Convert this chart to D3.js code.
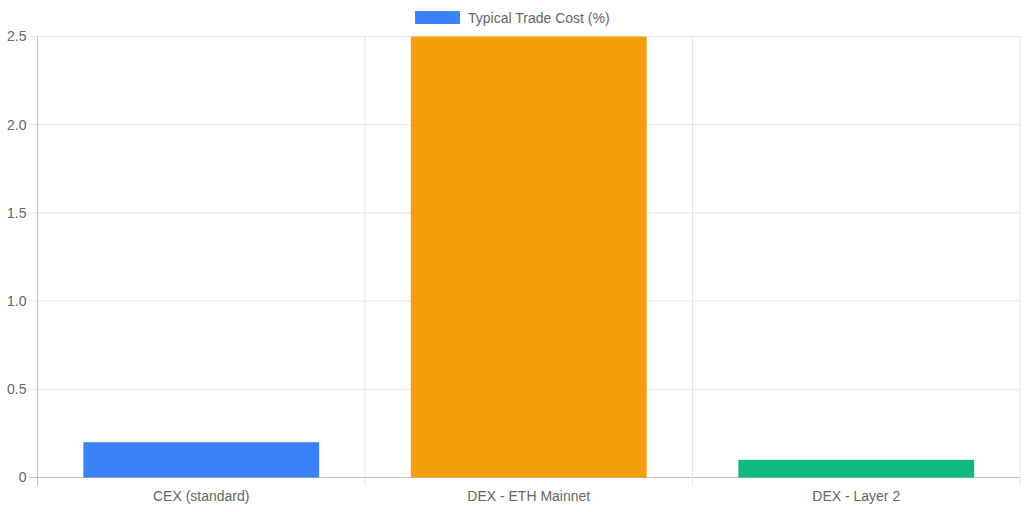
<!DOCTYPE html>
<html>
<head>
<meta charset="utf-8">
<script src="https://cdn.jsdelivr.net/npm/d3@7"></script>
<style>
  body { margin: 0; background: #fff; }
  svg { display: block; font-family: "Liberation Sans", Arial, sans-serif; }
</style>
</head>
<body>
<svg class="chart" width="1024" height="512"></svg>
<script>
// chart data
const categories = ['CEX (standard)', 'DEX - ETH Mainnet', 'DEX - Layer 2'];
const costValues = [0.2, 2.5, 0.1];
const barColors = ['#3b82f6', '#f59e0b', '#10b981'];
const yTicks = [0, 0.5, 1.0, 1.5, 2.0, 2.5];
const seriesLabel = 'Typical Trade Cost (%)';

const svg = d3.select('.chart');
const margin = {top: 36.5, right: 4, bottom: 34.5, left: 37.5};
const width = 1024 - margin.left - margin.right;
const height = 512 - margin.top - margin.bottom;

const x = d3.scaleBand().domain(categories).range([0, width]).paddingInner(0).paddingOuter(0);
const y = d3.scaleLinear().domain([0, 2.5]).range([height, 0]);

const g = svg.append('g').attr('transform', `translate(${margin.left},${margin.top})`);

// horizontal grid
g.selectAll('.hgrid').data(yTicks).enter().append('line')
  .attr('x1', -8).attr('x2', width)
  .attr('y1', d => y(d)).attr('y2', d => y(d))
  .attr('stroke', d => d === 0 ? '#bdbdbd' : '#e5e5e5')
  .attr('stroke-width', 1);

// vertical grid at category boundaries
const bounds = categories.map(c => x(c)).concat([width]);
g.selectAll('.vgrid').data(bounds).enter().append('line')
  .attr('x1', d => d).attr('x2', d => d)
  .attr('y1', 0).attr('y2', height + 8)
  .attr('stroke', (d, i) => i === 0 ? '#bdbdbd' : '#e5e5e5')
  .attr('stroke-width', 1);

// y tick labels
g.selectAll('.ylab').data(yTicks).enter().append('text')
  .attr('x', -11).attr('y', d => y(d))
  .attr('dy', '0.35em')
  .attr('text-anchor', 'end')
  .attr('fill', '#666').attr('font-size', 14)
  .text(d => d === 0 ? '0' : d.toFixed(1));

// x labels
g.selectAll('.xlab').data(categories).enter().append('text')
  .attr('x', d => x(d) + x.bandwidth() / 2)
  .attr('y', height + 19)
  .attr('dy', '0.35em')
  .attr('text-anchor', 'middle')
  .attr('fill', '#666').attr('font-size', 14)
  .text(d => d);

// bars (chart.js style: 0.9 category * 0.8 bar)
const barW = x.bandwidth() * 0.72;
g.selectAll('.bar').data(costValues).enter().append('rect')
  .attr('x', (d, i) => x(categories[i]) + (x.bandwidth() - barW) / 2)
  .attr('y', d => y(d))
  .attr('width', barW)
  .attr('height', d => height - y(d))
  .attr('fill', (d, i) => barColors[i]);

// legend
const legend = svg.append('g').attr('transform', 'translate(415,11)');
legend.append('rect').attr('width', 45).attr('height', 13).attr('fill', barColors[0]);
legend.append('text')
  .attr('x', 53).attr('y', 7).attr('dy', '0.35em')
  .attr('fill', '#666').attr('font-size', 14)
  .text(seriesLabel);
</script>
</body>
</html>
